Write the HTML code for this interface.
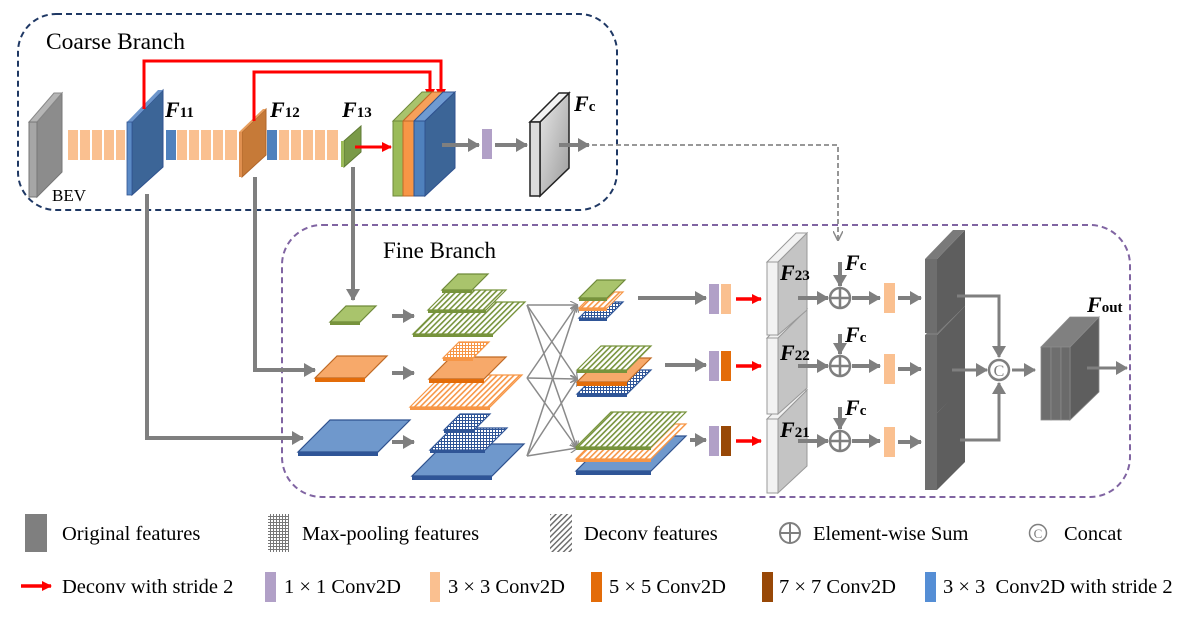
<!DOCTYPE html>
<html><head><meta charset="utf-8"><style>
html,body{margin:0;padding:0;background:#fff}
svg{display:block}
text{font-family:"Liberation Serif",serif}
.lb{font-weight:bold;font-style:italic;font-size:22px}
.sub{font-weight:bold;font-style:normal;font-size:15px}
.lg{font-size:20.5px}
</style></head><body>
<svg width="1186" height="617" viewBox="0 0 1186 617" xmlns="http://www.w3.org/2000/svg">
<defs>
<marker id="ag" markerUnits="userSpaceOnUse" markerWidth="12" markerHeight="14" refX="11" refY="7" orient="auto"><path d="M0,0 L12,7 L0,14 z" fill="#7f7f7f"/></marker>
<marker id="agt" markerUnits="userSpaceOnUse" markerWidth="8" markerHeight="8" refX="7" refY="4" orient="auto"><path d="M0,0 L8,4 L0,8" fill="none" stroke="#8a8a8a" stroke-width="1.2"/></marker>
<marker id="agd" markerUnits="userSpaceOnUse" markerWidth="10" markerHeight="10" refX="9" refY="5" orient="auto"><path d="M0,0 L10,5 L0,10" fill="none" stroke="#8a8a8a" stroke-width="1.5"/></marker>
<marker id="ar" markerUnits="userSpaceOnUse" markerWidth="10" markerHeight="10" refX="9" refY="5" orient="auto"><path d="M0,0 L10,5 L0,10 z" fill="#ff0000"/></marker>
<pattern id="hg" width="4" height="4" patternUnits="userSpaceOnUse" patternTransform="rotate(45)"><rect width="4" height="4" fill="#fff"/><rect width="1.6" height="4" fill="#77933c"/></pattern>
<pattern id="ho" width="4" height="4" patternUnits="userSpaceOnUse" patternTransform="rotate(45)"><rect width="4" height="4" fill="#fff"/><rect width="1.6" height="4" fill="#f79646"/></pattern>
<pattern id="hk" width="4" height="4" patternUnits="userSpaceOnUse" patternTransform="rotate(45)"><rect width="4" height="4" fill="#fff"/><rect width="1.4" height="4" fill="#666"/></pattern>
<pattern id="xo" width="3" height="3" patternUnits="userSpaceOnUse"><rect width="3" height="3" fill="#fff"/><rect width="1" height="3" fill="#f79646"/><rect width="3" height="1" fill="#f79646"/></pattern>
<pattern id="xb" width="3" height="3" patternUnits="userSpaceOnUse"><rect width="3" height="3" fill="#fff"/><rect width="1" height="3" fill="#2f5597"/><rect width="3" height="1" fill="#2f5597"/></pattern>
<pattern id="xk" width="3" height="3" patternUnits="userSpaceOnUse"><rect width="3" height="3" fill="#fff"/><rect width="1" height="3" fill="#777"/><rect width="3" height="1" fill="#777"/></pattern>
<linearGradient id="gf" x1="0" y1="0" x2="1" y2="1"><stop offset="0" stop-color="#e8e8e8"/><stop offset="1" stop-color="#9a9a9a"/></linearGradient>
</defs>

<rect x="18" y="14" width="599" height="196" rx="38" fill="none" stroke="#1f3864" stroke-width="2" stroke-dasharray="6,4"/>
<text x="46" y="49" font-size="23.5">Coarse Branch</text>
<rect x="282" y="225" width="848" height="272" rx="40" fill="none" stroke="#8064a2" stroke-width="2" stroke-dasharray="6,4"/>
<text x="383" y="258" font-size="23">Fine Branch</text>

<path d="M147,194 V438 H303" fill="none" stroke="#7f7f7f" stroke-width="4" marker-end="url(#ag)"/>
<path d="M255,177 V370 H315" fill="none" stroke="#7f7f7f" stroke-width="4" marker-end="url(#ag)"/>
<path d="M353,167 V300" fill="none" stroke="#7f7f7f" stroke-width="4" marker-end="url(#ag)"/>

<polygon points="37,122 62,93 62,172 37,197" fill="#8c8c8c" stroke="#777"/>
<polygon points="29,122 37,122 62,93 54,93" fill="#b5b5b5" stroke="#888"/>
<rect x="29" y="122" width="8" height="75" fill="#a6a6a6" stroke="#777"/>
<text x="52" y="201" font-size="17">BEV</text>

<g fill="#fac090">
<rect x="68" y="130" width="10" height="30"/><rect x="80" y="130" width="10" height="30"/><rect x="92" y="130" width="10" height="30"/><rect x="104" y="130" width="10" height="30"/><rect x="116" y="130" width="9" height="30"/>
<rect x="177" y="130" width="10" height="30"/><rect x="189" y="130" width="10" height="30"/><rect x="201" y="130" width="10" height="30"/><rect x="213" y="130" width="10" height="30"/><rect x="225" y="130" width="12" height="30"/>
<rect x="279" y="130" width="10" height="30"/><rect x="291" y="130" width="10" height="30"/><rect x="303" y="130" width="10" height="30"/><rect x="315" y="130" width="10" height="30"/><rect x="327" y="130" width="11" height="30"/>
</g>
<rect x="166" y="130" width="10" height="30" fill="#4f81bd"/>
<rect x="267" y="130" width="10" height="30" fill="#4f81bd"/>

<polygon points="132,122 163,90 163,167 132,195" fill="#3c6597" stroke="#2f528f"/>
<polygon points="127,122 132,122 163,90 158,90" fill="#6d96cc"/>
<rect x="127" y="122" width="5" height="73" fill="#5b8ac6" stroke="#2f528f" stroke-width="0.8"/>
<text x="165" y="117" class="lb">F<tspan class="sub" font-size="17">11</tspan></text>
<polygon points="242,132 266,109 266,155 242,177" fill="#c67a38" stroke="#b0652a"/>
<polygon points="239,132 242,132 266,109 263,109" fill="#e8a060"/>
<rect x="239" y="132" width="3" height="45" fill="#e09050"/>
<text x="270" y="117" class="lb">F<tspan class="sub" font-size="17">12</tspan></text>
<polygon points="344,141 361,126 361,152 344,167" fill="#7a9a48" stroke="#5f7a35"/>
<rect x="341" y="141" width="3" height="26" fill="#9bbb59"/>
<text x="342" y="117" class="lb">F<tspan class="sub" font-size="17">13</tspan></text>

<path d="M144,109 V61 H441 V98" fill="none" stroke="#ff0000" stroke-width="3" marker-end="url(#ar)"/>
<path d="M254,121 V72 H430 V98" fill="none" stroke="#ff0000" stroke-width="3" marker-end="url(#ar)"/>
<line x1="355" y1="147" x2="391" y2="147" stroke="#ff0000" stroke-width="3" marker-end="url(#ar)"/>

<polygon points="393,121 403,121 432,92 422,92" fill="#a9c46c" stroke="#6f8a3a"/>
<polygon points="403,121 414,121 443,92 432,92" fill="#f7a05a" stroke="#c06a25"/>
<polygon points="414,121 425,121 455,92 443,92" fill="#6f9bd2" stroke="#2f528f"/>
<polygon points="425,121 455,92 455,168 425,196" fill="#3c6597" stroke="#2f528f"/>
<rect x="393" y="121" width="10" height="75" fill="#9bbb59" stroke="#6f8a3a"/>
<rect x="403" y="121" width="11" height="75" fill="#f79646" stroke="#c06a25"/>
<rect x="414" y="121" width="11" height="75" fill="#4f81bd" stroke="#2f528f"/>

<line x1="442" y1="145" x2="479" y2="145" stroke="#7f7f7f" stroke-width="4" marker-end="url(#ag)"/>
<rect x="482" y="129" width="10" height="30" fill="#b1a0c7"/>
<line x1="495" y1="145" x2="527" y2="145" stroke="#7f7f7f" stroke-width="4" marker-end="url(#ag)"/>
<polygon points="540,122 569,93 569,168 540,196" fill="url(#gf)" stroke="#222" stroke-width="1.5"/>
<polygon points="530,122 540,122 569,93 559,93" fill="#f2f2f2" stroke="#222" stroke-width="1.5"/>
<rect x="530" y="122" width="10" height="74" fill="#dcdcdc" stroke="#222" stroke-width="1.5"/>
<text x="574" y="111" class="lb">F<tspan class="sub" font-style="italic" font-size="17">c</tspan></text>
<line x1="559" y1="145" x2="589" y2="145" stroke="#7f7f7f" stroke-width="4" marker-end="url(#ag)"/>
<path d="M592,145 H838 V240" fill="none" stroke="#8a8a8a" stroke-width="1.8" stroke-dasharray="5,3" marker-end="url(#agd)"/>

<g stroke-width="1.2">
<polygon points="330,322 360,322 376,306 346,306" fill="#a9c46c" stroke="#6f8a3a"/><rect x="330" y="322" width="30" height="3" fill="#77933c"/>
<polygon points="315,378 365,378 387,356 337,356" fill="#f7a96a" stroke="#c06a25"/><rect x="315" y="378" width="50" height="4" fill="#e36c09"/>
<polygon points="298,452 378,452 410,420 330,420" fill="#6f98cc" stroke="#2f528f"/><rect x="298" y="452" width="80" height="4" fill="#2f5597"/>
</g>
<g stroke="#7f7f7f" stroke-width="4">
<line x1="392" y1="316" x2="414" y2="316" marker-end="url(#ag)"/>
<line x1="392" y1="373" x2="414" y2="373" marker-end="url(#ag)"/>
<line x1="392" y1="442" x2="414" y2="442" marker-end="url(#ag)"/>
</g>

<g stroke-width="1.2">
<polygon points="413,334 493,334 525,302 445,302" fill="url(#hg)" stroke="#77933c"/><rect x="413" y="334" width="80" height="3" fill="#77933c"/>
<polygon points="428,310 486,310 506,290 448,290" fill="url(#hg)" stroke="#77933c"/><rect x="428" y="310" width="58" height="3" fill="#77933c"/>
<polygon points="442,290 472,290 488,274 458,274" fill="#a9c46c" stroke="#6f8a3a"/><rect x="442" y="290" width="30" height="3" fill="#77933c"/>

<polygon points="410,407 490,407 522,375 442,375" fill="url(#ho)" stroke="#f79646"/><rect x="410" y="407" width="80" height="3" fill="#f79646"/>
<polygon points="429,379 484,379 506,357 451,357" fill="#f7a96a" stroke="#c06a25"/><rect x="429" y="379" width="55" height="4" fill="#e36c09"/>
<polygon points="443,358 473,358 489,342 459,342" fill="url(#xo)" stroke="#f79646"/><rect x="443" y="358" width="30" height="3" fill="#f79646"/>

<polygon points="412,476 492,476 524,444 444,444" fill="#6f98cc" stroke="#2f528f"/><rect x="412" y="476" width="80" height="4" fill="#2f5597"/>
<polygon points="430,450 485,450 507,428 452,428" fill="url(#xb)" stroke="#2f5597"/><rect x="430" y="450" width="55" height="3" fill="#2f5597"/>
<polygon points="444,430 474,430 490,414 460,414" fill="url(#xb)" stroke="#2f5597"/><rect x="444" y="430" width="30" height="3" fill="#2f5597"/>
</g>

<g stroke="#8a8a8a" stroke-width="1.5" marker-end="url(#agt)">
<line x1="527" y1="305" x2="577" y2="305"/><line x1="527" y1="305" x2="577" y2="379"/><line x1="527" y1="305" x2="577" y2="448"/>
<line x1="527" y1="378" x2="577" y2="305"/><line x1="527" y1="378" x2="577" y2="379"/><line x1="527" y1="378" x2="577" y2="448"/>
<line x1="527" y1="456" x2="577" y2="305"/><line x1="527" y1="456" x2="577" y2="379"/><line x1="527" y1="456" x2="577" y2="448"/>
</g>

<g stroke-width="1.2">
<polygon points="579,318 607,318 623,302 595,302" fill="url(#xb)" stroke="#2f5597"/><rect x="579" y="318" width="28" height="3" fill="#2f5597"/>
<polygon points="579,308 607,308 623,292 595,292" fill="url(#ho)" stroke="#f79646"/><rect x="579" y="308" width="28" height="3" fill="#f79646"/>
<polygon points="579,298 607,298 625,280 597,280" fill="#a9c46c" stroke="#6f8a3a"/><rect x="579" y="298" width="28" height="3" fill="#77933c"/>

<polygon points="577,394 627,394 651,370 601,370" fill="url(#xb)" stroke="#2f5597"/><rect x="577" y="394" width="50" height="3" fill="#2f5597"/>
<polygon points="577,382 627,382 651,358 601,358" fill="#f7a96a" stroke="#c06a25"/><rect x="577" y="382" width="50" height="4" fill="#e36c09"/>
<polygon points="577,370 627,370 651,346 601,346" fill="url(#hg)" stroke="#77933c"/><rect x="577" y="370" width="50" height="3" fill="#77933c"/>

<polygon points="576,471 651,471 686,436 611,436" fill="#6f98cc" stroke="#2f528f"/><rect x="576" y="471" width="75" height="4" fill="#2f5597"/>
<polygon points="576,459 651,459 686,424 611,424" fill="url(#ho)" stroke="#f79646"/><rect x="576" y="459" width="75" height="3" fill="#f79646"/>
<polygon points="576,447 651,447 686,412 611,412" fill="url(#hg)" stroke="#77933c"/><rect x="576" y="447" width="75" height="3" fill="#77933c"/>
</g>

<g stroke="#7f7f7f" stroke-width="4">
<line x1="638" y1="298" x2="706" y2="298" marker-end="url(#ag)"/>
<line x1="665" y1="365" x2="706" y2="365" marker-end="url(#ag)"/>
<line x1="690" y1="440" x2="706" y2="440" marker-end="url(#ag)"/>
</g>
<rect x="709" y="284" width="10" height="30" fill="#b1a0c7"/><rect x="721" y="284" width="10" height="30" fill="#fac090"/>
<rect x="709" y="351" width="10" height="30" fill="#b1a0c7"/><rect x="721" y="351" width="10" height="30" fill="#e36c09"/>
<rect x="709" y="426" width="10" height="30" fill="#b1a0c7"/><rect x="721" y="426" width="10" height="30" fill="#984807"/>
<g stroke="#ff0000" stroke-width="3.5">
<line x1="736" y1="299" x2="761" y2="299" marker-end="url(#ar)"/>
<line x1="736" y1="366" x2="761" y2="366" marker-end="url(#ar)"/>
<line x1="736" y1="441" x2="761" y2="441" marker-end="url(#ar)"/>
</g>

<g stroke="#999" stroke-width="1">
<polygon points="778,419 807,390 807,466 778,493" fill="#c4c4c4"/>
<polygon points="767,419 778,419 807,390 796,390" fill="#f2f2f2"/>
<rect x="767" y="419" width="11" height="74" fill="#f2f2f2"/>
<polygon points="778,338 807,309 807,388 778,414" fill="#c4c4c4"/>
<polygon points="767,338 778,338 807,309 796,309" fill="#f2f2f2"/>
<rect x="767" y="338" width="11" height="76" fill="#f2f2f2"/>
<polygon points="778,262 807,233 807,310 778,335" fill="#c4c4c4"/>
<polygon points="767,262 778,262 807,233 796,233" fill="#f2f2f2"/>
<rect x="767" y="262" width="11" height="73" fill="#f2f2f2"/>
</g>
<text x="780" y="280" class="lb" font-size="19">F<tspan class="sub">23</tspan></text>
<text x="780" y="360" class="lb" font-size="19">F<tspan class="sub">22</tspan></text>
<text x="780" y="437" class="lb" font-size="19">F<tspan class="sub">21</tspan></text>

<g stroke="#7f7f7f" stroke-width="4">
<line x1="798" y1="298" x2="828" y2="298" marker-end="url(#ag)"/>
<line x1="798" y1="366" x2="828" y2="366" marker-end="url(#ag)"/>
<line x1="798" y1="441" x2="828" y2="441" marker-end="url(#ag)"/>
<line x1="840" y1="262" x2="840" y2="286" marker-end="url(#ag)"/>
<line x1="840" y1="334" x2="840" y2="354" marker-end="url(#ag)"/>
<line x1="840" y1="407" x2="840" y2="429" marker-end="url(#ag)"/>
<line x1="852" y1="298" x2="880" y2="298" marker-end="url(#ag)"/>
<line x1="852" y1="366" x2="880" y2="366" marker-end="url(#ag)"/>
<line x1="852" y1="441" x2="880" y2="441" marker-end="url(#ag)"/>
<line x1="898" y1="298" x2="921" y2="298" marker-end="url(#ag)"/>
<line x1="898" y1="369" x2="921" y2="369" marker-end="url(#ag)"/>
<line x1="898" y1="442" x2="921" y2="442" marker-end="url(#ag)"/>
</g>
<g fill="#fff" stroke="#7f7f7f" stroke-width="2.5">
<circle cx="840" cy="298" r="10"/><circle cx="840" cy="366" r="10"/><circle cx="840" cy="441" r="10"/>
</g>
<g stroke="#7f7f7f" stroke-width="2.5">
<path d="M830,298 H850 M840,288 V308"/><path d="M830,366 H850 M840,356 V376"/><path d="M830,441 H850 M840,431 V451"/>
</g>
<text x="845" y="270" class="lb">F<tspan class="sub" font-style="italic" font-size="17">c</tspan></text>
<text x="845" y="342" class="lb">F<tspan class="sub" font-style="italic" font-size="17">c</tspan></text>
<text x="845" y="415" class="lb">F<tspan class="sub" font-style="italic" font-size="17">c</tspan></text>
<rect x="884" y="283" width="11" height="30" fill="#fac090"/>
<rect x="884" y="354" width="11" height="30" fill="#fac090"/>
<rect x="884" y="427" width="11" height="30" fill="#fac090"/>

<g>
<polygon points="937,413 965,384 965,462 937,490" fill="#5e5e5e"/>
<polygon points="925,413 937,413 965,384 953,384" fill="#7a7a7a"/>
<rect x="925" y="413" width="12" height="77" fill="#6e6e6e"/>
<polygon points="937,335 965,306 965,385 937,413" fill="#5e5e5e"/>
<polygon points="925,335 937,335 965,306 953,306" fill="#7a7a7a"/>
<rect x="925" y="335" width="12" height="78" fill="#6e6e6e"/>
<polygon points="937,259 965,230 965,306 937,333" fill="#5e5e5e"/>
<polygon points="925,259 937,259 965,230 953,230" fill="#7a7a7a"/>
<rect x="925" y="259" width="12" height="74" fill="#6e6e6e"/>
</g>
<g stroke="#7f7f7f" stroke-width="3" fill="none">
<path d="M957,296 H999 V357" marker-end="url(#ag)"/>
<path d="M960,440 H999 V383" marker-end="url(#ag)"/>
<line x1="952" y1="370" x2="987" y2="370" marker-end="url(#ag)"/>
<line x1="1012" y1="370" x2="1035" y2="370" marker-end="url(#ag)"/>
</g>
<circle cx="999" cy="370" r="10" fill="#fff" stroke="#7f7f7f" stroke-width="2.5"/>
<text x="999" y="376" font-size="16" fill="#7f7f7f" text-anchor="middle" font-family="Liberation Sans, sans-serif">C</text>

<g stroke="#8a8a8a" stroke-width="0.8">
<polygon points="1070,347 1099,317 1099,392 1070,420" fill="#5e5e5e"/>
<polygon points="1041,347 1070,347 1099,317 1070,317" fill="#808080"/>
<rect x="1041" y="347" width="10" height="73" fill="#6e6e6e"/>
<rect x="1051" y="347" width="10" height="73" fill="#6e6e6e"/>
<rect x="1061" y="347" width="9" height="73" fill="#6a6a6a"/>
</g>
<text x="1087" y="312" class="lb">F<tspan class="sub" font-style="italic" font-size="17">out</tspan></text>
<line x1="1087" y1="368" x2="1127" y2="368" stroke="#7f7f7f" stroke-width="3" marker-end="url(#ag)"/>

<rect x="25" y="514" width="22" height="38" fill="#7f7f7f"/>
<text x="62" y="540" class="lg">Original features</text>
<rect x="268" y="514" width="21" height="38" fill="url(#xk)"/>
<text x="302" y="540" class="lg">Max-pooling features</text>
<rect x="550" y="514" width="22" height="38" fill="url(#hk)"/>
<text x="584" y="540" class="lg">Deconv features</text>
<circle cx="790" cy="533" r="10" fill="none" stroke="#7f7f7f" stroke-width="2"/>
<path d="M780,533 H800 M790,523 V543" stroke="#7f7f7f" stroke-width="2"/>
<text x="813" y="540" class="lg">Element-wise Sum</text>
<circle cx="1038" cy="533" r="8.5" fill="none" stroke="#7f7f7f" stroke-width="1.5"/>
<text x="1038" y="538" font-size="13" fill="#7f7f7f" text-anchor="middle" font-family="Liberation Sans, sans-serif">C</text>
<text x="1064" y="540" class="lg">Concat</text>

<line x1="21" y1="586" x2="51" y2="586" stroke="#ff0000" stroke-width="3.5" marker-end="url(#ar)"/>
<text x="62" y="593" class="lg">Deconv with stride 2</text>
<rect x="265" y="572" width="11" height="30" fill="#b1a0c7"/>
<text x="284" y="593" class="lg">1 × 1 Conv2D</text>
<rect x="430" y="572" width="10" height="30" fill="#fac090"/>
<text x="448" y="593" class="lg">3 × 3 Conv2D</text>
<rect x="591" y="572" width="11" height="30" fill="#e36c09"/>
<text x="609" y="593" class="lg">5 × 5 Conv2D</text>
<rect x="762" y="572" width="11" height="30" fill="#984807"/>
<text x="779" y="593" class="lg">7 × 7 Conv2D</text>
<rect x="925" y="572" width="11" height="30" fill="#558ed5"/>
<text x="943" y="593" class="lg" xml:space="preserve">3 × 3  Conv2D with stride 2</text>
</svg>
</body></html>
